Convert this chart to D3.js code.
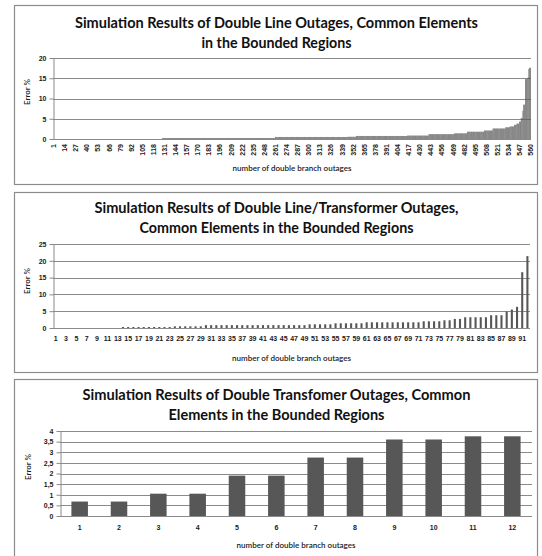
<!DOCTYPE html>
<html>
<head>
<meta charset="utf-8">
<script src="https://cdn.jsdelivr.net/npm/d3@7"></script>
<style>
  body { margin: 0; background: #fff; }
  svg { display: block; font-family: "Lato", "Liberation Sans", sans-serif; }
</style>
</head>
<body>
<svg id="chart" width="542" height="556"></svg>
<script>
// Panel 1: double line outages (560 cases). Read off the picture as plateaus:
// [error %, how many consecutive outages share that value]
const lineErrorRuns = [
  [0, 128], [0.25, 132], [0.5, 85], [0.55, 10], [0.75, 60], [0.85, 25],
  [1.2, 30], [1.4, 15], [1.8, 20], [2.1, 10], [2.6, 15], [2.9, 5], [3.1, 5],
  [3.5, 3], [3.8, 3], [4.3, 2], [5.2, 2], [7.0, 1], [8.5, 2], [14.8, 3],
  [15.2, 1], [17.3, 1], [17.6, 2]
];
const lineTickStep = 13;   // labels 1, 14, 27 ... 560

// Panel 2: double line/transformer outages (92 cases)
const lineTrafoErrors = [
  0, 0, 0, 0, 0, 0, 0, 0, 0, 0, 0, 0, 0,
  0.3, 0.3, 0.3, 0.3, 0.3, 0.3, 0.3, 0.3, 0.3, 0.3,
  0.5, 0.5, 0.5, 0.5, 0.5, 0.5,
  0.85, 0.85, 0.85, 0.85, 0.85, 0.85, 0.85, 0.85, 0.85, 0.85,
  0.85, 0.85, 0.85, 0.85, 0.85, 0.85, 0.85, 0.85, 0.85, 0.85,
  1.1, 1.1, 1.1, 1.1, 1.1,
  1.4, 1.4, 1.4, 1.4, 1.4, 1.4,
  1.7, 1.7, 1.7, 1.7, 1.7, 1.7, 1.7, 1.7, 1.7, 1.7, 1.7,
  2.0, 2.0, 2.0, 2.0,
  2.3, 2.3,
  2.7, 2.7,
  3.2, 3.2, 3.2, 3.2, 3.2,
  3.8, 3.8, 3.8,
  4.9, 5.5, 6.3, 16.6, 21.4
];
const lineTrafoTickStep = 2; // labels 1, 3, 5 ... 91

// Panel 3: double transformer outages (12 cases)
const trafoErrors = [0.68, 0.68, 1.05, 1.05, 1.9, 1.9, 2.75, 2.75, 3.6, 3.6, 3.75, 3.75];
const trafoTickStep = 1;

const titles = [
  ["Simulation Results of Double Line  Outages, Common Elements", "in the Bounded Regions"],
  ["Simulation Results of Double Line/Transformer Outages,", "Common Elements in the Bounded Regions"],
  ["Simulation Results of Double Transfomer Outages, Common", "Elements in the Bounded Regions"]
];
const xTitle = "number of double branch outages";
const yTitle = "Error %";

// expand the plateau runs into one value per outage
const lineErrors = lineErrorRuns.flatMap(([v, n]) => Array.from({ length: n }, () => v));

const svg = d3.select("#chart");
const BAR = "#575757", GRID = "#8a8a8a", TXT = "#1a1a1a";

function drawPanel(cfg) {
  const g = svg.append("g");
  const [bx0, by0, bx1, by1] = cfg.box;

  g.append("rect")
    .attr("x", bx0 + 0.5).attr("y", by0 + 0.5)
    .attr("width", bx1 - bx0).attr("height", by1 - by0)
    .attr("fill", "#fff").attr("stroke", "#8c8c8c").attr("stroke-width", 1.2);

  // title, two lines
  cfg.title.forEach((t, i) => {
    g.append("text")
      .attr("x", (bx0 + bx1) / 2 + 1)
      .attr("y", cfg.titleY[i])
      .attr("text-anchor", "middle")
      .attr("textLength", cfg.titleLen[i])
      .attr("lengthAdjust", "spacingAndGlyphs")
      .style("font-size", "14.5px")
      .style("font-weight", "bold")
      .style("fill", "#111")
      .text(t);
  });

  const cats = cfg.values.map((d, i) => i + 1);
  const x = d3.scaleBand().domain(cats).range([cfg.left, cfg.right]).paddingInner(cfg.pad).paddingOuter(cfg.pad / 2);
  const y = d3.scaleLinear().domain([0, cfg.yMax]).range([cfg.bottom, cfg.top]);
  const yTicks = d3.range(0, cfg.yMax + cfg.yStep / 2, cfg.yStep);

  // gridlines
  g.append("g").selectAll("line")
    .data(yTicks.filter(d => d > 0))
    .join("line")
    .attr("x1", cfg.left).attr("x2", cfg.right)
    .attr("y1", d => Math.round(y(d)) + 0.5).attr("y2", d => Math.round(y(d)) + 0.5)
    .attr("stroke", GRID).attr("stroke-width", 1);

  // bars
  g.append("g").selectAll("rect")
    .data(cfg.values)
    .join("rect")
    .attr("x", (d, i) => x(i + 1))
    .attr("width", x.bandwidth())
    .attr("y", d => y(d))
    .attr("height", d => cfg.bottom - y(d))
    .attr("fill", BAR);

  // y axis
  const yAxis = g.append("g")
    .attr("transform", `translate(${cfg.left + 0.5},0)`)
    .call(d3.axisLeft(y).tickValues(yTicks).tickSize(4).tickSizeOuter(0).tickPadding(3)
      .tickFormat(d => d3.format("~g")(d).replace(".", ",")));
  yAxis.select(".domain").attr("stroke", GRID);
  yAxis.selectAll(".tick line").attr("stroke", GRID);
  yAxis.selectAll("text").style("font-size", "7px").style("font-weight", "600")
    .style("fill", TXT).attr("font-family", null);

  // x axis line
  g.append("line")
    .attr("x1", cfg.left).attr("x2", cfg.right)
    .attr("y1", Math.round(cfg.bottom) + 0.5).attr("y2", Math.round(cfg.bottom) + 0.5)
    .attr("stroke", GRID);

  // x labels
  const xAxis = g.append("g")
    .attr("transform", `translate(0,${cfg.bottom})`)
    .call(d3.axisBottom(x).tickValues(cats.filter(c => (c - 1) % cfg.tickStep === 0)).tickSize(0).tickPadding(cfg.xPad));
  xAxis.select(".domain").remove();
  const xt = xAxis.selectAll("text").style("font-size", "7px").style("font-weight", "600")
    .style("fill", TXT).attr("font-family", null);
  if (cfg.rotate) {
    xt.attr("transform", "rotate(-90)")
      .attr("x", -5).attr("y", 0).attr("dy", "0.35em")
      .style("text-anchor", "end");
  }

  // axis titles
  g.append("text")
    .attr("x", (cfg.left + cfg.right) / 2)
    .attr("y", cfg.xTitleY)
    .attr("text-anchor", "middle")
    .attr("textLength", 119)
    .attr("lengthAdjust", "spacingAndGlyphs")
    .style("font-size", "8px")
    .style("font-weight", "600")
    .style("fill", TXT)
    .text(xTitle);

  g.append("text")
    .attr("transform", `translate(${cfg.yTitleX},${cfg.yTitleY}) rotate(-90)`)
    .attr("text-anchor", "middle")
    .style("font-size", "8px")
    .style("font-weight", "600")
    .style("fill", TXT)
    .text(yTitle);
}

drawPanel({
  box: [14, 5, 537, 184], title: titles[0], titleY: [28, 48], titleLen: [403, 150],
  values: lineErrors, left: 53, right: 531, top: 58, bottom: 139,
  yMax: 20, yStep: 5, pad: 0.2, tickStep: lineTickStep, rotate: true, xPad: 0,
  xTitleY: 171, yTitleX: 30, yTitleY: 92
});

drawPanel({
  box: [14, 192, 537, 372], title: titles[1], titleY: [213, 233], titleLen: [364, 274],
  values: lineTrafoErrors, left: 53, right: 530, top: 244, bottom: 328,
  yMax: 25, yStep: 5, pad: 0.6, tickStep: lineTrafoTickStep, rotate: false, xPad: 8,
  xTitleY: 361, yTitleX: 30, yTitleY: 281
});

drawPanel({
  box: [14, 379, 537, 560], title: titles[2], titleY: [400, 420], titleLen: [388, 216],
  values: trafoErrors, left: 60, right: 532, top: 431, bottom: 516,
  yMax: 4, yStep: 0.5, pad: 0.58, tickStep: trafoTickStep, rotate: false, xPad: 9,
  xTitleY: 548, yTitleX: 31, yTitleY: 467
});
</script>
</body>
</html>
